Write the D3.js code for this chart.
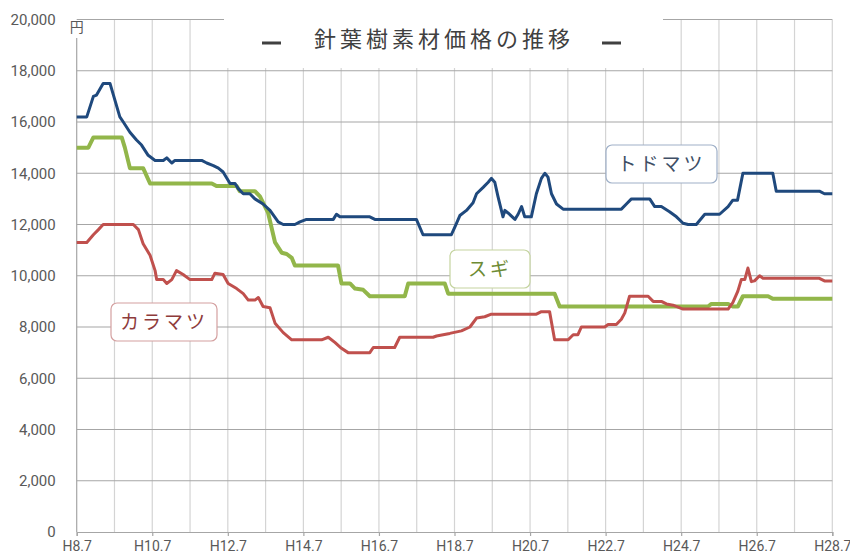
<!DOCTYPE html>
<html><head><meta charset="utf-8">
<script src="https://cdn.jsdelivr.net/npm/d3@7"></script>
<style>
body{margin:0;background:#fff;}
svg{display:block;font-family:"Noto Sans CJK JP","Noto Sans",sans-serif;}
</style></head><body>
<svg id="c" width="850" height="554"></svg>
<script>
// month index from H8.7 (0) to H28.7 (240), value in yen
const todomatsu = [[0,16200],[3.2,16200],[5.3,17000],[6.3,17050],[8.4,17500],[10.6,17500],[13.7,16200],[14.8,16000],[16.9,15600],[19,15300],[20.6,15100],[22.7,14700],[24.9,14500],[27.5,14500],[28.6,14600],[30.2,14400],[31.2,14500],[39.7,14500],[41.3,14400],[43.4,14300],[45,14200],[46.5,14050],[48.7,13600],[50.3,13600],[51.3,13400],[52.9,13200],[55,13200],[56.6,13000],[59.2,12800],[61.4,12550],[64,12100],[65.6,12000],[69.3,12000],[70.9,12100],[73,12200],[81.5,12200],[82.5,12400],[83.6,12300],[93.1,12300],[94.7,12200],[107.9,12200],[110,11600],[119,11600],[120.1,11900],[121.7,12350],[123.8,12550],[125.9,12850],[127,13200],[129.1,13450],[130.7,13650],[131.7,13800],[132.8,13650],[133.8,13100],[135.4,12300],[136,12550],[137,12450],[139.2,12200],[140.2,12400],[141.3,12700],[142.3,12300],[144.4,12300],[146,13200],[147.6,13800],[148.7,14000],[149.7,13850],[150.8,13200],[152.4,12800],[154.5,12600],[173,12600],[174.6,12800],[176.2,13000],[182,13000],[183.6,12700],[185.7,12700],[188.3,12500],[190.5,12300],[192.6,12050],[194.2,12000],[196.8,12000],[199.5,12400],[204.2,12400],[206.9,12700],[208.4,12950],[209.9,12950],[211.6,14000],[221.1,14000],[222.2,13300],[235.9,13300],[237.5,13200],[240,13200]];
const sugi = [[0,15000],[3.7,15000],[5.3,15400],[14.3,15400],[15.3,15000],[16.9,14200],[21.1,14200],[23.3,13600],[42.9,13600],[44.4,13500],[50.8,13500],[51.8,13300],[56.6,13300],[58.2,13100],[60.8,12450],[63,11300],[65.1,10900],[66.7,10850],[68.3,10700],[69.3,10400],[83,10400],[84.1,9700],[86.8,9700],[88.4,9500],[91,9450],[93.1,9200],[104.2,9200],[105.3,9700],[116.9,9700],[118,9300],[151.8,9300],[153.4,8800],[200.5,8800],[201.6,8900],[206.9,8900],[208.4,8800],[210,8800],[211.6,9200],[219.6,9200],[221.1,9100],[240,9100]];
const karamatsu = [[0,11300],[3.2,11300],[5.3,11600],[6.9,11800],[8.4,12000],[18,12000],[19.6,11800],[21.1,11250],[23.3,10800],[24.9,10200],[25.4,9850],[27.5,9850],[28.6,9700],[30.2,9850],[31.7,10200],[33.8,10050],[36,9850],[42.9,9850],[43.9,10100],[46.5,10050],[48.1,9700],[50.8,9500],[52.9,9300],[54.5,9050],[56.6,9050],[57.7,9150],[59.2,8800],[61.4,8750],[63,8150],[65.6,7780],[68.3,7500],[77.8,7500],[79.9,7600],[82,7400],[84.1,7170],[86.2,7000],[93.1,7000],[94.2,7200],[101,7200],[102.6,7600],[113.2,7600],[114.3,7650],[118.5,7750],[122.2,7850],[124.9,8000],[127,8350],[129.6,8400],[131.7,8500],[146,8500],[147.6,8600],[150.2,8600],[151.8,7500],[156.1,7500],[157.7,7700],[159.2,7700],[160.3,8000],[167.7,8000],[168.8,8100],[171.4,8100],[173,8300],[174.1,8550],[175.6,9200],[181.5,9200],[183.1,9000],[185.7,9000],[187.3,8900],[189.4,8850],[192.6,8700],[206.9,8700],[208.4,8950],[210,9400],[211.1,9850],[212.2,9850],[213.2,10300],[214.3,9770],[215.3,9800],[216.9,10000],[218,9900],[235.9,9900],[237.5,9800],[240,9800]];
const xTickMonths = [0,24,48,72,96,120,144,168,192,216,240];
const xTickLabels = ["H8.7","H10.7","H12.7","H14.7","H16.7","H18.7","H20.7","H22.7","H24.7","H26.7","H28.7"];
const yTicks = [0,2000,4000,6000,8000,10000,12000,14000,16000,18000,20000];
const seriesNames = ["トドマツ","スギ","カラマツ"];
const titleText = "針葉樹素材価格の推移";
const unitText = "円";

const svg = d3.select("#c");
const x = d3.scaleLinear().domain([0,240]).range([76.7,832.3]);
const y = d3.scaleLinear().domain([0,20000]).range([532,19.5]);

// vertical grid (yearly)
svg.append("g").selectAll("line").data(d3.range(12,241,12)).join("line")
  .attr("x1",d=>x(d)).attr("x2",d=>x(d)).attr("y1",y(20000)).attr("y2",y(0))
  .attr("stroke","#d4d4d4").attr("stroke-width",1.2);
// horizontal grid
svg.append("g").selectAll("line").data(yTicks.filter(d=>d>0)).join("line")
  .attr("x1",x(0)).attr("x2",x(240)).attr("y1",d=>y(d)).attr("y2",d=>y(d))
  .attr("stroke","#a6a6a6").attr("stroke-width",1.2);

// y axis labels
const ya = svg.append("g").attr("transform",`translate(${x(0)-18},0)`)
  .call(d3.axisLeft(y).tickValues(yTicks).tickSize(0).tickFormat(d3.format(",")));
ya.select(".domain").remove();
ya.selectAll("text").attr("fill","#595959").attr("font-size",15)
  .attr("font-family","Roboto,'Noto Sans',sans-serif");

// y axis line
svg.append("line").attr("x1",x(0)).attr("x2",x(0)).attr("y1",38).attr("y2",y(0))
  .attr("stroke","#a6a6a6").attr("stroke-width",1.2);
svg.append("text").attr("x",x(0)).attr("y",32).attr("text-anchor","middle")
  .attr("font-size",14).attr("fill","#595959").text(unitText);

// x axis
const xa = svg.append("g").attr("transform",`translate(0,${y(0)})`)
  .call(d3.axisBottom(x).tickValues(xTickMonths).tickSize(4).tickFormat((d,i)=>xTickLabels[i]));
xa.select(".domain").attr("stroke","#a6a6a6").attr("stroke-width",1.2);
xa.selectAll(".tick line").attr("stroke","#a6a6a6").attr("stroke-width",1.2);
xa.selectAll("text").attr("fill","#595959").attr("font-size",14).attr("dy",0).attr("y",18.5)
  .attr("font-family","Roboto,'Noto Sans',sans-serif");

// title box
svg.append("rect").attr("x",224).attr("y",8).attr("width",439).attr("height",60).attr("fill","#fff");
svg.append("rect").attr("x",262).attr("y",41.5).attr("width",19).attr("height",3).attr("fill","#404040");
svg.append("rect").attr("x",602).attr("y",41.5).attr("width",19).attr("height",3).attr("fill","#404040");
svg.append("text").attr("x",444).attr("y",47).attr("text-anchor","middle")
  .attr("font-size",22).attr("letter-spacing",4).attr("fill","#404040").text(titleText);

// lines
const line = d3.line().x(d=>x(d[0])).y(d=>y(d[1]));
const series = [
  {data:sugi, color:"#92b64a", w:4},
  {data:karamatsu, color:"#c0504d", w:3},
  {data:todomatsu, color:"#1f497d", w:3}
];
svg.append("g").selectAll("path").data(series).join("path")
  .attr("d",d=>line(d.data)).attr("fill","none").attr("stroke",d=>d.color)
  .attr("stroke-width",d=>d.w).attr("stroke-linejoin","round");

// labels
const labels = [
  {name:seriesNames[0], bx:606, by:145, bw:111, bh:38, stroke:"#9fb0c8", fill:"#404f66"},
  {name:seriesNames[1], bx:450, by:250, bw:80, bh:38, stroke:"#c5d4a0", fill:"#6e8b34"},
  {name:seriesNames[2], bx:111, by:303, bw:106, bh:38, stroke:"#d4a0a0", fill:"#8e3b3b"}
];
const lg = svg.append("g").selectAll("g").data(labels).join("g");
lg.append("rect").attr("x",d=>d.bx).attr("y",d=>d.by).attr("width",d=>d.bw).attr("height",d=>d.bh)
  .attr("rx",6).attr("fill","#fff").attr("stroke",d=>d.stroke).attr("stroke-width",1.2);
lg.append("text").attr("x",d=>d.bx+d.bw/2).attr("y",d=>d.by+d.bh/2+7).attr("text-anchor","middle")
  .attr("font-size",19).attr("letter-spacing",3).attr("fill",d=>d.fill).text(d=>d.name);
</script></body></html>
